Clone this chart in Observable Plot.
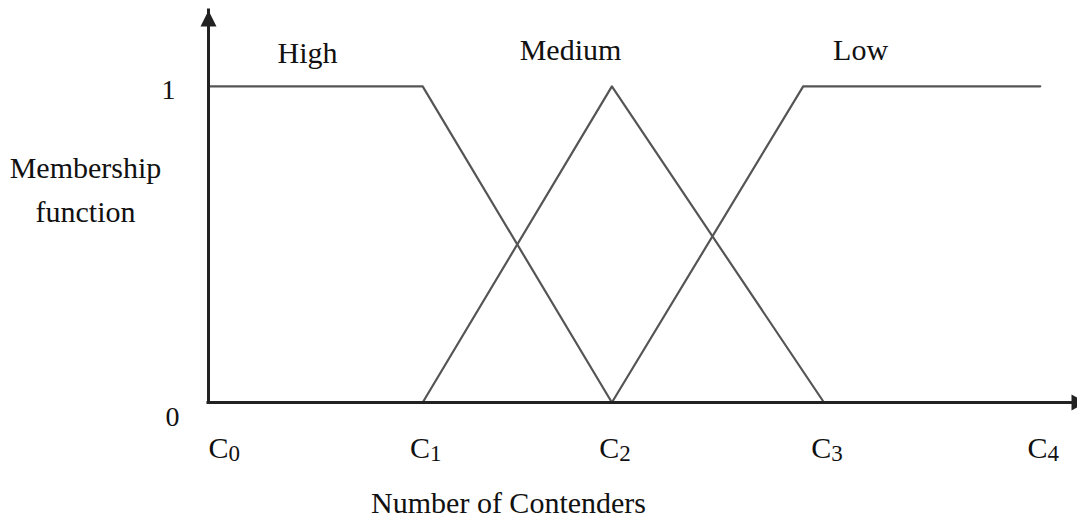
<!DOCTYPE html>
<html>
<head>
<meta charset="utf-8">
<script src="https://cdn.jsdelivr.net/npm/d3@7"></script>
<script src="https://cdn.jsdelivr.net/npm/@observablehq/plot@0.6"></script>
<style>
  html, body { margin: 0; padding: 0; background: #fff; }
  #chart { width: 1077px; height: 521px; overflow: hidden; }
</style>
</head>
<body>
<div id="chart"></div>
<script>
// ---- data ----
const categories = ["C0", "C1", "C2", "C3", "C4"];
const categoryAt = [0, 1.03, 1.94, 2.96, 4.0];
const seriesNames = ["High", "Medium", "Low"];
const highX = [0, 1.03, 1.94];
const highY = [1, 1, 0];
const mediumX = [1.03, 1.94, 2.96];
const mediumY = [0, 1, 0];
const lowX = [1.94, 2.86, 4.0];
const lowY = [0, 1, 1];
const yTicks = [0, 1];
const xTitle = "Number of Contenders";
const yTitle = "Membership\nfunction";

// ---- build tables ----
const seriesX = {High: highX, Medium: mediumX, Low: lowX};
const seriesY = {High: highY, Medium: mediumY, Low: lowY};
const points = seriesNames.flatMap(s => seriesX[s].map((x, i) => ({series: s, x, y: seriesY[s][i]})));
const cats = categories.map((c, i) => ({label: c, x: categoryAt[i]}));

// label layout (data units)
const labelLayout = {High: [0.476, 1.073], Medium: [1.741, 1.082], Low: [3.136, 1.085]};
const seriesLabels = seriesNames.map(s => ({name: s, x: labelLayout[s][0], y: labelLayout[s][1]}));

const font = "'Liberation Serif', 'Times New Roman', Times, serif";
const ink = "#111";
const axisInk = "#222";

const arrowUp = {draw(ctx) { ctx.moveTo(0, 0); ctx.lineTo(8, 16); ctx.lineTo(-8, 16); ctx.closePath(); }};
const arrowRight = {draw(ctx) { ctx.moveTo(0, 0); ctx.lineTo(-15, -8); ctx.lineTo(-15, 8); ctx.closePath(); }};

const chart = Plot.plot({
  width: 1077,
  height: 521,
  marginLeft: 208,
  marginRight: 4,
  marginTop: 10,
  marginBottom: 119,
  x: {domain: [0, 4.16], axis: null},
  y: {domain: [0, 1.24], axis: null},
  style: {fontFamily: font, background: "white", color: ink},
  marks: [
    Plot.line(points, {x: "x", y: "y", z: "series", stroke: "#555", strokeWidth: 2.2}),
    Plot.ruleX([0], {stroke: axisInk, strokeWidth: 3, strokeLinecap: "square"}),
    Plot.ruleY([0], {stroke: axisInk, strokeWidth: 3, strokeLinecap: "square"}),
    Plot.dot([0], {x: d => d, y: () => 1.24, symbol: arrowUp, fill: axisInk, stroke: null, r: 8}),
    Plot.dot([0], {x: () => 4.16, y: d => d, symbol: arrowRight, fill: axisInk, stroke: null, r: 8, dx: 13}),
    // series labels
    Plot.text(seriesLabels, {x: "x", y: "y", text: "name", fontSize: 30, fill: ink, lineAnchor: "bottom", textAnchor: "middle"}),
    // y tick labels
    Plot.text(yTicks.filter(v => v === 1), {x: () => 0, y: d => d, text: d => String(d), fontSize: 28, fill: ink, dx: -40, dy: 4, textAnchor: "middle"}),
    Plot.text(yTicks.filter(v => v === 0), {x: () => 0, y: d => d, text: d => String(d), fontSize: 28, fill: ink, dx: -36, dy: 15, textAnchor: "middle"}),
    // x category labels
    Plot.text(cats.slice(0, 1), {x: "x", y: () => 0, text: "label", fontSize: 30, fill: ink, lineAnchor: "bottom", textAnchor: "start", dy: 55}),
    Plot.text(cats.slice(1), {x: "x", y: () => 0, text: "label", fontSize: 30, fill: ink, lineAnchor: "bottom", textAnchor: "middle", dx: 3, dy: 55}),
    // axis titles
    Plot.text([xTitle], {x: () => 1.443, y: () => 0, text: d => d, fontSize: 30, fill: ink, lineAnchor: "bottom", textAnchor: "middle", dy: 110}),
    Plot.text([yTitle], {x: () => 0, y: () => 0.57, text: d => d, fontSize: 30, fill: ink, lineAnchor: "bottom", textAnchor: "middle", dx: -123, lineHeight: 1.4667})
  ]
});

// subscripts for category labels
const catSet = new Set(categories);
d3.select(chart).selectAll("text").each(function() {
  const t = this.textContent;
  if (!catSet.has(t)) return;
  while (this.firstChild) this.removeChild(this.firstChild);
  const sel = d3.select(this);
  sel.append("tspan").text(t.slice(0, 1));
  sel.append("tspan").attr("font-size", 23).attr("dy", 3).text(t.slice(1));
});

document.getElementById("chart").appendChild(chart);
</script>
</body>
</html>
